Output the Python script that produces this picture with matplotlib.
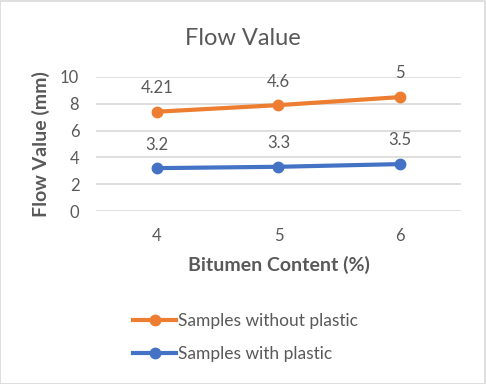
import matplotlib.pyplot as plt
import numpy as np
from matplotlib.patches import Rectangle

plt.rcParams['font.family'] = ['Lato', 'DejaVu Sans']

# Data (stacked line chart: orange is stacked on top of blue)
bitumen = [4, 5, 6]
with_plastic = [3.2, 3.3, 3.5]
without_plastic = [4.21, 4.6, 5]

text_col = '#595959'
grid_col = '#D9D9D9'
orange = '#ED7D31'
blue = '#4472C4'

fig = plt.figure(figsize=(4.86, 3.84), dpi=100)
fig.patches.append(Rectangle((0.001, 0.001), 0.997, 0.997, transform=fig.transFigure,
                             fill=False, edgecolor='#D9D9D9', linewidth=1.2))
ax = fig.add_axes([0.1975, 0.4505, 0.751, 0.349])

x = np.array(bitumen, dtype=float)
blue_y = np.array(with_plastic)
orange_y = blue_y + np.array(without_plastic)

l1, = ax.plot(x, orange_y, color=orange, linewidth=3, marker='o', markersize=7.5,
              label='Samples without plastic', zorder=3)
l2, = ax.plot(x, blue_y, color=blue, linewidth=3, marker='o', markersize=7.5,
              label='Samples with plastic', zorder=3)

for xi, yi, v in zip(x, orange_y, without_plastic):
    ax.annotate(f'{v:g}', (xi, yi), xytext=(0, 17), textcoords='offset points',
                ha='center', va='center', fontsize=12, color=text_col)
for xi, yi, v in zip(x, blue_y, with_plastic):
    ax.annotate(f'{v:g}', (xi, yi), xytext=(0, 17), textcoords='offset points',
                ha='center', va='center', fontsize=12, color=text_col)

ax.set_xlim(3.5, 6.5)
ax.set_ylim(0, 10)
ax.set_xticks(bitumen)
ax.set_yticks(np.arange(0, 11, 2))
ax.grid(axis='y', color=grid_col, linewidth=1.2)
ax.set_axisbelow(True)
for s in ax.spines.values():
    s.set_visible(False)
ax.tick_params(length=0, labelsize=12, colors=text_col)
ax.tick_params(axis='y', pad=12)
ax.tick_params(axis='x', pad=12)

fig.text(0.5, 0.9, 'Flow Value', fontsize=17, color=text_col, ha='center', va='center')
ax.set_xlabel('Bitumen Content (%)', fontsize=14, fontweight='bold', color=text_col, labelpad=9)
ax.set_ylabel('Flow Value (mm)', fontsize=14, fontweight='bold', color=text_col, labelpad=7)

fig.legend(handles=[l1, l2], loc='center', bbox_to_anchor=(0.505, 0.121), frameon=False,
           fontsize=12.5, labelcolor=text_col, handlelength=2.5, handletextpad=0.1,
           labelspacing=0.95)

fig.savefig('out.png', dpi=100)
